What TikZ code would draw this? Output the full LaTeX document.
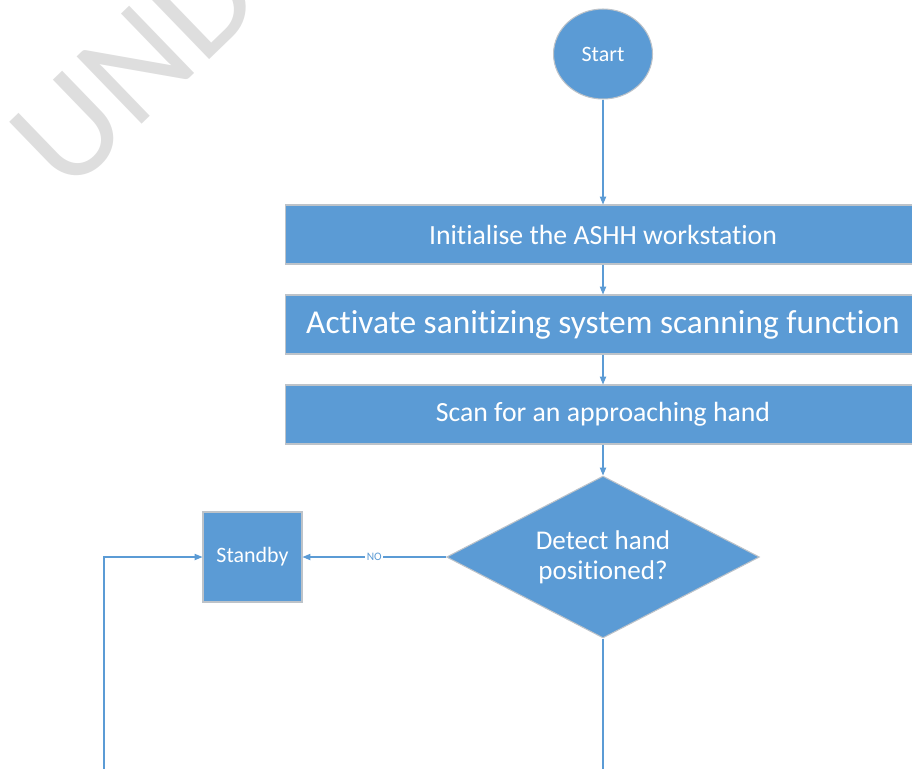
\documentclass[tikz,border=0pt]{standalone}
\usepackage{fontspec}
\setmainfont{Carlito}[Ligatures=NoCommon]
\usetikzlibrary{
    arrows.meta,
    shapes.geometric,
    positioning
}
\definecolor{flowblue}{HTML}{5B9BD5}
\definecolor{edgegray}{HTML}{BDC3C9}
\tikzset{
  flowline/.style={
    flowblue,
    line width=0.6pt
  },
  flowarrow/.style={
    flowline,
    -{Triangle[length=4.5pt,width=3.6pt]}
  },
  stepbox/.style={
    rectangle,
    fill=flowblue,
    draw=edgegray,
    line width=0.6pt,
    text=white,
    inner sep=0pt
  },
  nolabel/.style={
    fill=white,
    text=flowblue,
    font=\fontsize{6.5}{7}\selectfont,
    inner sep=1pt
  }
}

\begin{document}
\begin{tikzpicture}[x=0.02cm,y=-0.02cm]
    \useasboundingbox (0,0) rectangle (912,768);
    \clip (0,0) rectangle (912,768);

    % 透かし
    \node[anchor=base west,rotate=44,text=black!13,inner sep=0pt,
          font=\fontsize{83}{90}\selectfont] (mark) at (67,197) {UNDER};

    % 開始
    \node[stepbox,ellipse,minimum width=1.98cm,minimum height=1.8cm,
          font=\fontsize{12.5}{15}\selectfont] (start) at (603,54) {Start};

    % 処理
    \node[stepbox,minimum width=12.72cm,minimum height=1.18cm,
          font=\fontsize{15.8}{18}\selectfont] (init) at (603,234.5)
        {Initialise the ASHH workstation};
    \node[stepbox,minimum width=12.72cm,minimum height=1.18cm,
          font=\fontsize{19}{22}\selectfont] (activate) at (603,324.5)
        {Activate sanitizing system scanning function};
    \node[stepbox,minimum width=12.72cm,minimum height=1.18cm,
          font=\fontsize{15.8}{18}\selectfont] (scan) at (603,414.5)
        {Scan for an approaching hand};

    % 判断
    \node[stepbox,diamond,aspect=1.9,minimum width=6.26cm,minimum height=3.24cm,
          align=center,font=\fontsize{15.4}{17}\selectfont] (detect) at (603,557)
        {Detect hand\\positioned?};

    % 待機
    \node[stepbox,minimum width=1.98cm,minimum height=1.8cm,
          font=\fontsize{12.5}{15}\selectfont] (standby) at (252.5,557) {Standby};

    % 矢印
    \draw[flowarrow] (start) -- (init);
    \draw[flowarrow] (init) -- (activate);
    \draw[flowarrow] (activate) -- (scan);
    \draw[flowarrow] (scan) -- (detect);
    \draw[flowarrow] (detect.west) -- node[nolabel] {NO} (standby.east);

    \coordinate (loopfoot) at (104,772);
    \coordinate (detectfoot) at (603,772);
    \draw[flowarrow] (loopfoot) |- (standby.west);
    \draw[flowline] (detect.south) -- (detectfoot);
\end{tikzpicture}
\end{document}
